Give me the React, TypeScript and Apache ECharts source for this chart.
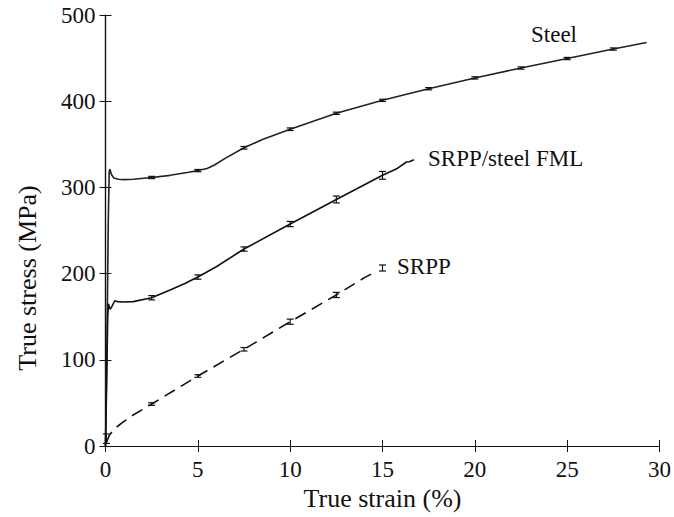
import React, { useEffect, useRef } from "react";
import * as echarts from "echarts";

const steelCurve: number[][] = [
  [0, 0], [0.08, 120], [0.15, 260], [0.2, 318], [0.24, 321], [0.32, 315], [0.45, 311],
  [0.7, 309.5], [1, 309], [1.5, 309.5], [2.5, 311.5], [3.5, 314], [4.5, 317.5], [5, 319.5],
  [5.5, 322], [5.9, 326], [6.5, 334], [7.5, 346], [8.5, 355.5], [10, 367.5], [12.5, 386],
  [15, 401], [17.5, 414.5], [20, 427], [22.5, 438.5], [25, 449.5], [27.5, 460.5], [29.3, 468],
];
const fmlCurve: number[][] = [
  [0, 0], [0.06, 70], [0.12, 150], [0.16, 165], [0.25, 158.5], [0.35, 162], [0.5, 168.5],
  [0.65, 167.5], [1, 167], [1.5, 167.5], [2.5, 172], [3.5, 181], [4.3, 188.5], [5, 196],
  [6, 208], [7.5, 228.5], [10, 257.5], [12.5, 286], [15, 314], [15.8, 322], [16.3, 329.5],
  [16.45, 329.8], [16.7, 332],
];
const srppCurve: number[][] = [
  [0.05, 4], [0.2, 12], [0.45, 19.5], [1, 28.5], [1.5, 36], [2.5, 48.7], [5, 81.2],
  [7.5, 112.2], [10, 144.2], [12.5, 175.2], [14, 195], [14.7, 203],
];

const steelBarX = [2.5, 5, 7.5, 10, 12.5, 15, 17.5, 20, 22.5, 25, 27.5];
const steelBarY = [311.5, 319.5, 346, 367.5, 386, 401, 414.5, 427, 438.5, 449.5, 460.5];
const steelBarErr = [1.3, 1.3, 1.5, 1.5, 1.3, 1.3, 1.3, 1.3, 1.3, 1.3, 1.3];

const fmlBarX = [2.5, 5, 7.5, 10, 12.5, 15];
const fmlBarY = [172, 196, 228.5, 257.5, 286, 314];
const fmlBarErr = [2.5, 2.5, 2.5, 3, 4, 4.5];

const srppBarX = [0.05, 2.5, 5, 7.5, 10, 12.5, 15];
const srppBarY = [8.5, 48.7, 81.2, 112.2, 144.2, 175.2, 206.5];
const srppBarErr = [5.5, 1.5, 1.5, 2, 3, 3, 3.5];

const xTicks = [0, 5, 10, 15, 20, 25, 30];
const yTicks = [0, 100, 200, 300, 400, 500];

const yAxisTitle = "True stress (MPa)";
const xAxisTitle = "True strain (%)";

const labels = [
  { text: "Steel", left: 531, top: 23 },
  { text: "SRPP/steel FML", left: 428, top: 147 },
  { text: "SRPP", left: 397, top: 255 },
];

const FONT = '"Liberation Serif", "DejaVu Serif", serif';
const FS = 23;
const NAME_FS = 26;

function errorSeries(xs: number[], ys: number[], errs: number[]) {
  return {
    type: "custom",
    xAxisIndex: 0,
    yAxisIndex: 0,
    z: 5,
    data: xs.map((x, i) => [x, ys[i] - errs[i], ys[i] + errs[i]]),
    renderItem: (params: any, api: any) => {
      const lo = api.coord([api.value(0), api.value(1)]);
      const hi = api.coord([api.value(0), api.value(2)]);
      const w = 3.5;
      const st = { stroke: "#111", lineWidth: 1.2 };
      return {
        type: "group",
        children: [
          { type: "line", shape: { x1: lo[0], y1: lo[1], x2: hi[0], y2: hi[1] }, style: st },
          { type: "line", shape: { x1: lo[0] - w, y1: lo[1], x2: lo[0] + w, y2: lo[1] }, style: st },
          { type: "line", shape: { x1: hi[0] - w, y1: hi[1], x2: hi[0] + w, y2: hi[1] }, style: st },
        ],
      };
    },
  };
}

export default function App() {
  const ref = useRef<HTMLDivElement>(null);
  useEffect(() => {
    if (!ref.current) return;
    const chart = echarts.init(ref.current, undefined, { renderer: "svg" });
    const axisLine = { show: true, lineStyle: { color: "#111", width: 1.2 } };
    const tickStyle = { show: true, inside: true, length: 6, lineStyle: { color: "#111", width: 1 } };
    chart.setOption({
      animation: false,
      backgroundColor: "#fff",
      textStyle: { fontFamily: FONT },
      grid: { left: 105.5, right: 13, top: 15, bottom: 71, containLabel: false },
      xAxis: [
        {
          type: "value", min: 0, max: 30, interval: 5,
          name: xAxisTitle, nameLocation: "middle", nameGap: 29,
          nameTextStyle: { fontFamily: FONT, fontSize: NAME_FS, color: "#111" },
          axisLine, axisTick: tickStyle,
          axisLabel: { fontFamily: FONT, fontSize: FS, color: "#111", margin: 12,
            formatter: (v: number) => (xTicks.includes(v) ? String(v) : "") },
          splitLine: { show: false },
        },
        {
          type: "value", min: 0, max: 30, interval: 5, position: "top",
          axisLine, axisTick: tickStyle, axisLabel: { show: false }, splitLine: { show: false },
        },
      ],
      yAxis: [
        {
          type: "value", min: 0, max: 500, interval: 100,
          axisLine, axisTick: tickStyle,
          axisLabel: { fontFamily: FONT, fontSize: FS, color: "#111", margin: 10,
            formatter: (v: number) => (yTicks.includes(v) ? String(v) : "") },
          splitLine: { show: false },
        },
        {
          type: "value", min: 0, max: 500, interval: 100, position: "right",
          axisLine, axisTick: tickStyle, axisLabel: { show: false }, splitLine: { show: false },
        },
      ],
      series: [
        {
          type: "line", data: steelCurve, showSymbol: false, symbol: "none",
          lineStyle: { color: "#222", width: 1.6 }, z: 3,
        },
        {
          type: "line", data: fmlCurve, showSymbol: false, symbol: "none",
          lineStyle: { color: "#111", width: 1.6 }, z: 3,
        },
        {
          type: "line", data: srppCurve, showSymbol: false, symbol: "none",
          lineStyle: { color: "#111", width: 1.6, type: [12, 7] }, z: 3,
        },
        errorSeries(steelBarX, steelBarY, steelBarErr),
        errorSeries(fmlBarX, fmlBarY, fmlBarErr),
        errorSeries(srppBarX, srppBarY, srppBarErr),
      ],
      graphic: [
        ...labels.map((l) => ({
          type: "text", left: l.left, top: l.top,
          style: { text: l.text, fontFamily: FONT, fontSize: FS, fill: "#111" },
        })),
        {
          type: "text", x: 27, y: 278, rotation: Math.PI / 2,
          style: { text: yAxisTitle, fontFamily: FONT, fontSize: NAME_FS, fill: "#111",
            align: "center", verticalAlign: "middle" },
        },
      ],
    });
    return () => chart.dispose();
  }, []);
  return <div ref={ref} style={{ width: 674, height: 517, position: "absolute", left: 0, top: 0 }} />;
}
